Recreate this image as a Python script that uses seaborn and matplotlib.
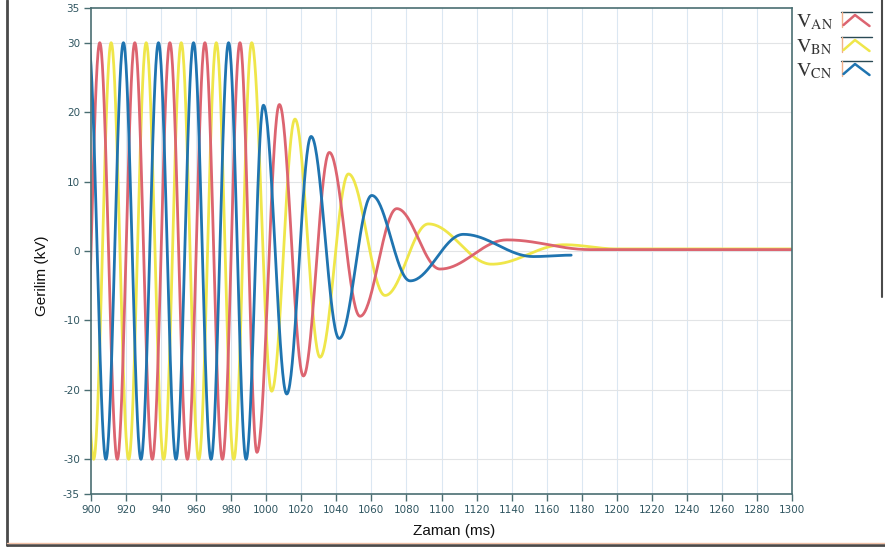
import numpy as np
import pandas as pd
import matplotlib
matplotlib.use("Agg")
import matplotlib.pyplot as plt
from matplotlib.lines import Line2D
import seaborn as sns

sns.set_theme(style="white")
plt.rcParams['font.family'] = ['DejaVu Sans']
plt.rcParams['axes.unicode_minus'] = False
plt.rcParams['mathtext.fontset'] = 'stix'

# ---- data: extrema (time ms, voltage kV) ----
van_t = [895, 905, 915, 925, 935, 945, 955, 965, 975, 985, 994.7,
         1007.5, 1021.2, 1036.0, 1053.5, 1074.5, 1099.2, 1137.3, 1185, 1300]
van_v = [-30, 30, -30, 30, -30, 30, -30, 30, -30, 30, -29,
         21.1, -18.0, 14.2, -9.4, 6.1, -2.6, 1.6, 0.2, 0.2]

vbn_t = [891.5, 901.5, 911.5, 921.5, 931.5, 941.5, 951.5, 961.5, 971.5, 981.5, 991.7,
         1003.1, 1016.4, 1030.7, 1046.9, 1067.8, 1092.5, 1128.7, 1170, 1200, 1300]
vbn_v = [30, -30, 30, -30, 30, -30, 30, -30, 30, -30, 30,
         -20.2, 19.0, -15.3, 11.1, -6.4, 3.9, -1.9, 0.9, 0.3, 0.3]

vcn_t = [898.5, 908.5, 918.5, 928.5, 938.5, 948.5, 958.5, 968.5, 978.5, 988.5,
         998.4, 1011.7, 1025.6, 1041.6, 1060.2, 1082.1, 1112.5, 1152.5, 1174]
vcn_v = [30, -30, 30, -30, 30, -30, 30, -30, 30, -30,
         21.0, -20.6, 16.5, -12.6, 8.0, -4.3, 2.4, -0.8, -0.6]

series_names = ["V_AN", "V_BN", "V_CN"]
colors = {"V_AN": "#dc6470", "V_BN": "#efe64a", "V_CN": "#1f74b0"}
legend_labels = [r"$\mathrm{V_{AN}}$", r"$\mathrm{V_{BN}}$", r"$\mathrm{V_{CN}}$"]

x_ticks = list(range(900, 1301, 20))
y_ticks = [-35, -30, -20, -10, 0, 10, 20, 30, 35]


def wave(tk, vk, n=40):
    """Half-cosine shaped segments joining successive extrema."""
    ts, vs = [], []
    for i in range(len(tk) - 1):
        t0, t1, v0, v1 = tk[i], tk[i + 1], vk[i], vk[i + 1]
        s = np.linspace(0, 1, n, endpoint=False)
        ts.append(t0 + (t1 - t0) * s)
        vs.append((v0 + v1) / 2 + (v0 - v1) / 2 * np.cos(np.pi * s))
    ts.append([tk[-1]])
    vs.append([vk[-1]])
    return np.concatenate(ts), np.concatenate(vs)


frames = []
for name, tk, vk in [("V_AN", van_t, van_v), ("V_BN", vbn_t, vbn_v), ("V_CN", vcn_t, vcn_v)]:
    t, v = wave(tk, vk)
    frames.append(pd.DataFrame({"t": t, "v": v, "phase": name}))
df = pd.concat(frames, ignore_index=True)

W, H = 885, 548
fig = plt.figure(figsize=(W / 100, H / 100), dpi=100)
ax = fig.add_axes([91 / W, (H - 494) / H, (792 - 91) / W, (494 - 8) / H])

for name in ["V_BN", "V_AN", "V_CN"]:
    sns.lineplot(data=df[df.phase == name], x="t", y="v", color=colors[name],
                 lw=2.0, sort=False, estimator=None, ax=ax, legend=False)

ax.set_xlim(900, 1300)
ax.set_ylim(-35, 35)
ax.set_xticks(x_ticks)
ax.set_yticks(y_ticks)
ax.set_xticklabels([str(x) for x in x_ticks])
ax.set_yticklabels([str(y) for y in y_ticks])
ax.set_xlabel("")
ax.set_ylabel("")
for xv in x_ticks[1:-1]:
    ax.axvline(xv, color="#dbe7f2", lw=0.8, zorder=0)
for yv in y_ticks[1:-1]:
    ax.axhline(yv, color="#e2e4e6", lw=0.8, zorder=0)

spc = "#4a6e72"
for s in ax.spines.values():
    s.set_visible(True)
    s.set_color(spc)
    s.set_linewidth(1.2)
ax.tick_params(direction="out", length=5, width=1, color=spc,
               labelsize=7.5, labelcolor="#2f5560", pad=3,
               bottom=True, left=True)

fig.text(454 / W, 1 - 531.5 / H, "Zaman (ms)", ha="center", va="center",
         fontsize=11, family="Liberation Sans", color="#111111")
fig.text(42 / W, 1 - 276 / H, "Gerilim (kV)", ha="center", va="center",
         rotation=90, fontsize=11, family="Liberation Sans", color="#111111")


def px(x, y):
    return x / W, 1 - y / H


# legend (manual, outside the plot on the right)
rows = [27, 52, 76]
for name, lab, yb in zip(series_names, legend_labels, rows):
    tx, ty = px(796, yb)
    fig.text(tx, ty, lab, ha="left", va="baseline", fontsize=14.5, color="#333333")
    top = yb - 15
    xs, ys = zip(px(841, top), px(872, top))
    fig.add_artist(Line2D(xs, ys, color="#2a4a55", lw=1.0))
    xs, ys = zip(px(841.5, top), px(841.5, top + 15))
    fig.add_artist(Line2D(xs, ys, color="#f0b08a", lw=1.0))
    pts = [px(843.5, yb - 2), px(855, yb - 12), px(869.5, yb - 1)]
    xs, ys = zip(*pts)
    fig.add_artist(Line2D(xs, ys, color=colors[name], lw=1.8))

# outer panel border
frame_c = "#4a4a4a"
xs, ys = zip(px(7, 0), px(7, 544.5))
fig.add_artist(Line2D(xs, ys, color=frame_c, lw=2.0))
xs, ys = zip(px(7, 544.5), px(885, 544.5))
fig.add_artist(Line2D(xs, ys, color=frame_c, lw=2.0))
xs, ys = zip(px(7, 542.5), px(885, 542.5))
fig.add_artist(Line2D(xs, ys, color="#f2c2a8", lw=1.0))
xs, ys = zip(px(881.5, 0), px(881.5, 297))
fig.add_artist(Line2D(xs, ys, color=frame_c, lw=1.5))

fig.savefig("out.png", dpi=100)
